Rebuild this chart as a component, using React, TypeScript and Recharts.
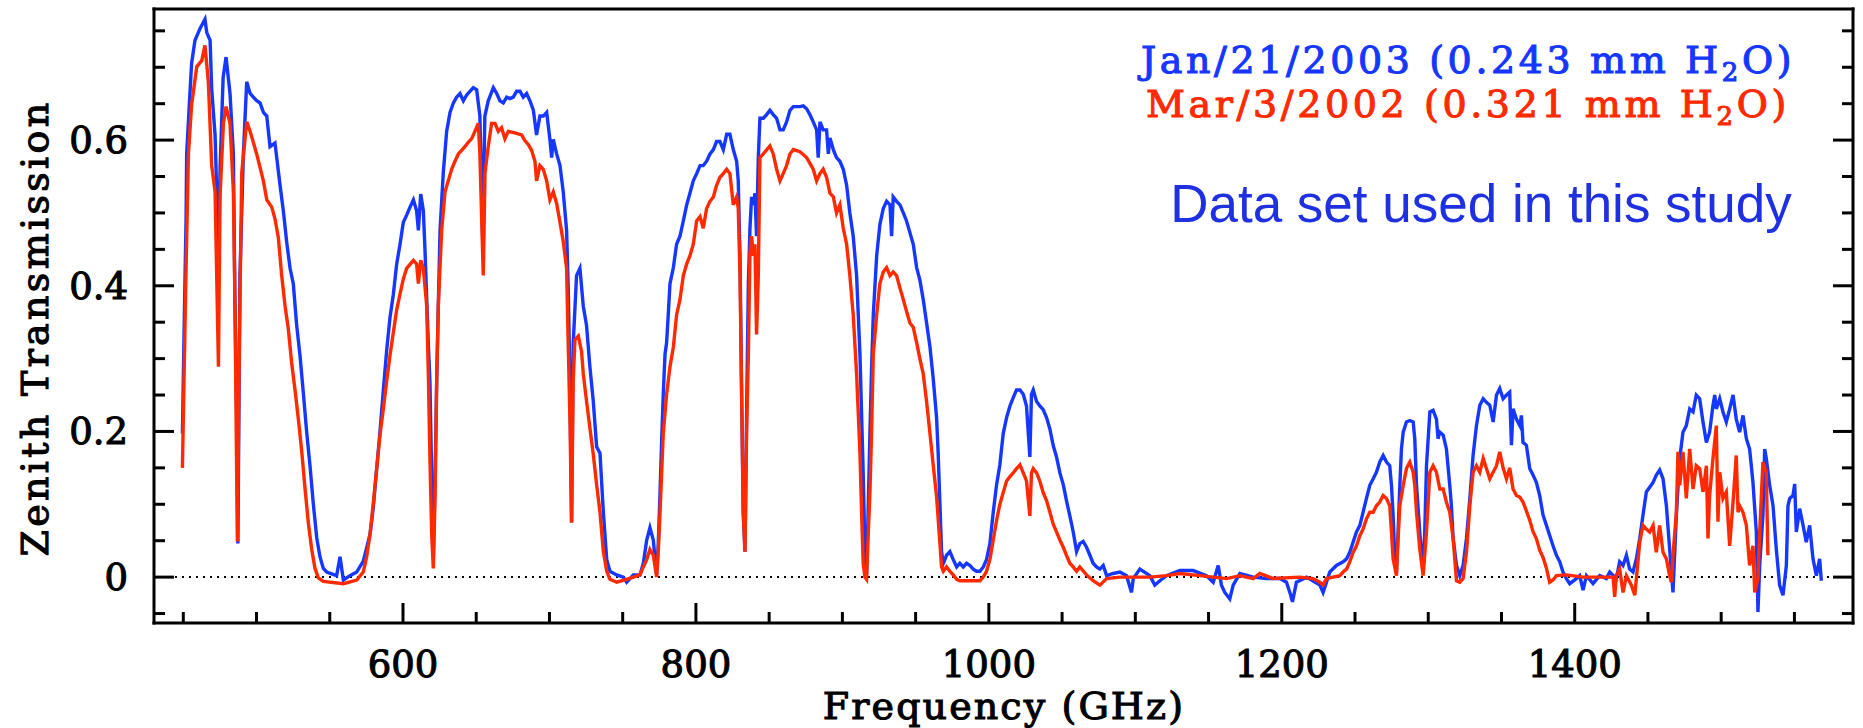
import React from "react";
import { LineChart, Line, XAxis, YAxis, ReferenceLine } from "recharts";

// zenith transmission spectra, [frequency GHz, transmission]
const janSpectrum: [number, number][] = [
  [449.4, 0.197], [450.7, 0.356], [451.9, 0.492], [452.3, 0.581], [454.6, 0.667], [455.7, 0.706],
  [458.0, 0.737], [461.4, 0.753], [464.8, 0.766], [466.0, 0.748], [468.3, 0.737], [469.4, 0.67],
  [471.7, 0.607], [472.8, 0.529], [474.0, 0.43], [475.1, 0.56], [477.2, 0.686], [479.2, 0.714],
  [481.9, 0.664], [484.2, 0.581], [485.3, 0.372], [486.5, 0.216], [487.3, 0.046], [488.7, 0.414],
  [491.0, 0.58], [493.3, 0.68], [495.6, 0.664], [497.8, 0.659], [500.1, 0.654], [502.4, 0.651],
  [504.7, 0.638], [507.0, 0.633], [509.2, 0.591], [512.6, 0.596], [513.8, 0.576], [516.0, 0.539],
  [518.3, 0.503], [520.6, 0.46], [522.9, 0.424], [525.1, 0.403], [527.4, 0.346], [529.7, 0.304],
  [532.0, 0.252], [534.2, 0.2], [536.5, 0.153], [538.8, 0.1], [541.1, 0.054], [543.3, 0.028],
  [545.6, 0.012], [547.9, 0.007], [554.7, 0.002], [557.0, 0.028], [559.3, -0.004], [563.8, 0.002],
  [568.4, 0.007], [572.9, 0.022], [577.5, 0.059], [579.7, 0.095], [582.0, 0.148], [584.3, 0.2],
  [586.6, 0.257], [588.8, 0.31], [591.1, 0.356], [593.4, 0.388], [595.7, 0.43], [597.9, 0.456],
  [600.2, 0.487], [602.5, 0.497], [604.8, 0.508], [607.1, 0.518], [609.3, 0.503], [610.5, 0.476],
  [612.1, 0.526], [613.9, 0.503], [615.0, 0.45], [617.3, 0.32], [618.4, 0.268], [619.6, 0.137],
  [620.7, 0.028], [621.9, 0.137], [623.0, 0.268], [624.1, 0.372], [625.3, 0.476], [627.5, 0.555],
  [629.8, 0.612], [632.1, 0.638], [634.4, 0.651], [636.6, 0.659], [638.9, 0.664], [641.2, 0.654],
  [643.5, 0.662], [645.7, 0.667], [648.0, 0.672], [650.3, 0.669], [652.5, 0.633], [654.4, 0.466],
  [655.9, 0.633], [658.2, 0.654], [661.7, 0.672], [664.0, 0.664], [666.2, 0.654], [668.5, 0.651],
  [670.8, 0.659], [673.0, 0.657], [675.3, 0.659], [677.6, 0.667], [679.9, 0.667], [682.1, 0.659],
  [684.4, 0.664], [686.7, 0.654], [689.0, 0.641], [691.2, 0.607], [693.5, 0.633], [695.8, 0.633],
  [698.1, 0.638], [700.3, 0.601], [701.5, 0.576], [702.6, 0.601], [704.9, 0.581], [707.2, 0.565],
  [709.4, 0.529], [711.7, 0.476], [712.8, 0.398], [714.0, 0.268], [715.1, 0.075], [716.2, 0.32],
  [718.5, 0.414], [720.8, 0.424], [723.1, 0.372], [725.3, 0.346], [727.6, 0.289], [729.9, 0.242],
  [732.2, 0.179], [734.5, 0.17], [736.8, 0.089], [739.1, 0.024], [741.3, 0.008], [745.9, 0.003],
  [750.4, 0.0], [752.7, -0.007], [757.3, 0.003], [761.8, 0.003], [764.1, 0.019], [766.4, 0.051],
  [768.6, 0.068], [770.9, 0.051], [773.2, 0.003], [774.3, 0.046], [775.5, 0.116], [776.6, 0.187],
  [777.7, 0.251], [778.9, 0.306], [780.0, 0.322], [781.1, 0.36], [782.3, 0.403], [784.6, 0.425],
  [786.8, 0.457], [789.1, 0.468], [791.4, 0.489], [793.7, 0.511], [795.9, 0.527], [798.2, 0.544],
  [800.5, 0.554], [802.8, 0.565], [805.0, 0.565], [807.3, 0.571], [809.6, 0.581], [811.9, 0.587],
  [814.1, 0.598], [816.4, 0.598], [818.7, 0.587], [821.0, 0.608], [823.2, 0.608], [825.5, 0.587],
  [827.8, 0.571], [828.9, 0.544], [830.1, 0.441], [831.2, 0.251], [832.3, 0.089], [833.5, 0.035],
  [834.6, 0.224], [835.8, 0.403], [836.9, 0.479], [838.0, 0.522], [839.2, 0.511], [840.3, 0.527],
  [841.4, 0.468], [842.6, 0.576], [843.7, 0.63], [846.0, 0.63], [848.3, 0.635], [850.5, 0.641],
  [852.8, 0.635], [855.1, 0.63], [857.4, 0.614], [859.6, 0.614], [861.9, 0.625], [864.2, 0.641],
  [866.5, 0.646], [871.0, 0.646], [873.3, 0.647], [875.6, 0.643], [877.8, 0.635], [880.1, 0.625],
  [882.4, 0.614], [883.5, 0.576], [884.7, 0.625], [886.9, 0.614], [889.2, 0.614], [890.4, 0.581],
  [891.5, 0.603], [893.8, 0.587], [896.0, 0.576], [898.3, 0.571], [900.6, 0.56], [902.9, 0.538],
  [905.1, 0.5], [907.4, 0.468], [909.7, 0.414], [912.0, 0.306], [913.1, 0.224], [914.2, 0.143],
  [915.4, 0.035], [916.5, 0.003], [917.7, 0.1], [918.8, 0.197], [919.9, 0.284], [921.1, 0.36],
  [923.4, 0.441], [925.6, 0.484], [927.9, 0.506], [930.2, 0.516], [932.5, 0.511], [933.6, 0.468],
  [934.7, 0.522], [937.0, 0.516], [939.3, 0.511], [941.6, 0.5], [943.8, 0.489], [946.1, 0.473],
  [948.4, 0.457], [950.7, 0.425], [952.9, 0.408], [955.2, 0.381], [957.5, 0.349], [959.8, 0.316],
  [962.0, 0.273], [964.3, 0.219], [965.4, 0.17], [966.6, 0.1], [967.7, 0.035], [968.9, 0.019],
  [971.1, 0.03], [973.4, 0.035], [975.7, 0.024], [978.0, 0.014], [980.2, 0.019], [982.5, 0.014],
  [984.8, 0.019], [987.1, 0.016], [989.3, 0.011], [991.6, 0.008], [993.9, 0.008], [996.2, 0.014],
  [998.4, 0.024], [1000.7, 0.046], [1003.0, 0.089], [1005.3, 0.127], [1007.5, 0.154], [1009.8, 0.197],
  [1012.1, 0.219], [1014.4, 0.235], [1016.6, 0.246], [1018.9, 0.257], [1021.2, 0.257], [1023.5, 0.251],
  [1025.7, 0.235], [1028.0, 0.165], [1029.1, 0.251], [1030.3, 0.257], [1032.6, 0.241], [1034.8, 0.235],
  [1037.1, 0.23], [1039.4, 0.219], [1041.7, 0.203], [1043.9, 0.181], [1046.2, 0.165], [1048.5, 0.143],
  [1050.8, 0.127], [1053.0, 0.105], [1055.3, 0.084], [1057.6, 0.062], [1059.9, 0.035], [1062.1, 0.046],
  [1064.4, 0.049], [1066.7, 0.041], [1069.0, 0.03], [1071.2, 0.019], [1073.5, 0.014], [1075.8, 0.011],
  [1078.1, 0.016], [1080.4, 0.002], [1084.9, 0.005], [1089.5, 0.007], [1094.0, 0.002], [1097.4, -0.021],
  [1098.6, -0.002], [1103.1, 0.011], [1109.9, 0.002], [1113.3, -0.011], [1116.8, -0.005], [1121.3, 0.002],
  [1130.4, 0.009], [1139.5, 0.009], [1148.6, 0.002], [1153.2, -0.007], [1156.6, 0.016], [1158.8, -0.011],
  [1161.1, -0.021], [1164.5, -0.03], [1166.8, -0.011], [1171.4, 0.005], [1180.5, 0.0], [1189.6, -0.002],
  [1198.7, -0.002], [1203.2, -0.007], [1205.5, -0.021], [1207.3, -0.034], [1210.0, -0.007], [1216.9, 0.0],
  [1226.0, -0.011], [1228.2, -0.021], [1232.8, 0.007], [1237.3, 0.016], [1241.9, 0.021], [1244.2, 0.025],
  [1246.4, 0.034], [1248.7, 0.048], [1251.0, 0.062], [1253.3, 0.071], [1255.5, 0.089], [1257.8, 0.108],
  [1260.1, 0.126], [1262.4, 0.135], [1264.6, 0.144], [1266.9, 0.158], [1269.2, 0.167], [1271.5, 0.158],
  [1273.7, 0.153], [1274.9, 0.126], [1276.0, 0.085], [1277.2, 0.025], [1278.3, 0.007], [1279.4, 0.062],
  [1280.6, 0.126], [1281.7, 0.176], [1282.9, 0.199], [1285.1, 0.213], [1287.4, 0.215], [1289.7, 0.213],
  [1290.8, 0.19], [1292.0, 0.126], [1294.2, 0.062], [1296.5, 0.007], [1297.6, 0.062], [1298.8, 0.153],
  [1301.1, 0.227], [1303.3, 0.229], [1305.6, 0.217], [1306.7, 0.19], [1307.9, 0.199], [1310.2, 0.195],
  [1312.4, 0.176], [1314.7, 0.126], [1315.8, 0.098], [1317.0, 0.053], [1319.3, 0.016], [1321.5, 0.002],
  [1323.8, 0.016], [1326.1, 0.053], [1328.4, 0.108], [1330.6, 0.167], [1332.9, 0.208], [1335.2, 0.236],
  [1337.5, 0.245], [1339.7, 0.24], [1342.0, 0.236], [1344.3, 0.213], [1346.6, 0.25], [1348.8, 0.259],
  [1351.1, 0.245], [1353.4, 0.25], [1355.6, 0.254], [1356.8, 0.181], [1357.9, 0.231], [1360.2, 0.217],
  [1362.5, 0.208], [1363.6, 0.222], [1364.7, 0.185], [1367.0, 0.181], [1369.3, 0.149], [1371.6, 0.14],
  [1373.8, 0.13], [1376.1, 0.112], [1378.4, 0.085], [1380.7, 0.071], [1382.9, 0.057], [1385.2, 0.043],
  [1387.5, 0.03], [1389.8, 0.021], [1392.0, 0.007], [1394.3, -0.002], [1396.6, -0.009], [1401.1, -0.002],
  [1403.4, 0.002], [1405.7, -0.018], [1408.0, 0.002], [1412.5, -0.009], [1417.1, 0.002], [1421.6, -0.002],
  [1423.9, 0.007], [1428.4, -0.002], [1430.7, 0.021], [1433.0, 0.016], [1435.3, 0.03], [1437.5, 0.011],
  [1439.8, 0.007], [1442.1, 0.025], [1444.4, 0.053], [1446.6, 0.085], [1448.9, 0.117], [1453.5, 0.13],
  [1455.7, 0.14], [1458.0, 0.147], [1460.3, 0.135], [1462.6, 0.098], [1464.8, 0.039], [1467.1, -0.021],
  [1469.4, 0.085], [1471.7, 0.163], [1473.9, 0.199], [1476.2, 0.208], [1478.5, 0.231], [1480.8, 0.227],
  [1483.0, 0.25], [1485.3, 0.245], [1487.6, 0.213], [1489.9, 0.185], [1492.1, 0.199], [1494.4, 0.236],
  [1495.6, 0.25], [1496.7, 0.231], [1499.0, 0.245], [1501.2, 0.227], [1503.5, 0.213], [1505.8, 0.231],
  [1508.1, 0.25], [1510.3, 0.217], [1512.6, 0.199], [1514.9, 0.222], [1517.2, 0.19], [1519.4, 0.176],
  [1521.7, 0.13], [1524.0, 0.062], [1525.1, -0.048], [1526.3, 0.016], [1528.5, 0.085], [1529.7, 0.176],
  [1530.8, 0.163], [1533.1, 0.126], [1535.4, 0.098], [1537.6, 0.039], [1539.9, -0.011], [1542.2, -0.025],
  [1544.5, 0.016], [1545.6, 0.098], [1546.8, 0.108], [1549.0, 0.112], [1550.2, 0.128], [1551.3, 0.062],
  [1553.6, 0.094], [1555.9, 0.071], [1558.1, 0.048], [1560.4, 0.071], [1562.7, 0.025], [1565.0, 0.002],
  [1567.2, 0.025], [1568.4, -0.005],
];

const marSpectrum: [number, number][] = [
  [449.4, 0.15], [450.7, 0.294], [451.9, 0.424], [453.5, 0.581], [455.7, 0.649], [459.2, 0.701],
  [462.6, 0.709], [464.8, 0.73], [467.1, 0.68], [469.4, 0.565], [471.7, 0.529], [474.0, 0.289],
  [475.1, 0.524], [477.4, 0.623], [479.2, 0.646], [481.9, 0.623], [484.2, 0.529], [485.3, 0.372],
  [486.9, 0.049], [488.3, 0.32], [489.9, 0.555], [493.3, 0.625], [495.6, 0.612], [497.8, 0.597],
  [500.1, 0.581], [504.7, 0.544], [507.0, 0.518], [510.4, 0.508], [512.6, 0.492], [514.9, 0.466],
  [517.2, 0.414], [519.5, 0.372], [521.7, 0.341], [524.0, 0.294], [526.3, 0.257], [528.6, 0.216],
  [530.8, 0.174], [533.1, 0.122], [535.4, 0.074], [537.7, 0.038], [539.9, 0.012], [542.2, -0.001],
  [545.6, -0.006], [559.3, -0.009], [568.4, -0.004], [572.9, 0.007], [575.2, 0.028], [577.5, 0.059],
  [579.7, 0.101], [582.0, 0.148], [584.3, 0.195], [586.6, 0.231], [588.8, 0.268], [591.1, 0.304],
  [593.4, 0.336], [595.7, 0.367], [597.9, 0.388], [600.2, 0.409], [602.5, 0.424], [607.1, 0.435],
  [609.3, 0.43], [610.5, 0.403], [612.1, 0.435], [613.9, 0.424], [616.2, 0.372], [617.3, 0.278],
  [618.4, 0.163], [619.6, 0.059], [620.7, 0.012], [621.9, 0.111], [623.0, 0.268], [624.1, 0.372],
  [626.4, 0.476], [628.7, 0.529], [630.9, 0.544], [633.2, 0.56], [635.5, 0.571], [637.8, 0.581],
  [640.0, 0.586], [642.3, 0.591], [644.6, 0.597], [646.9, 0.602], [649.1, 0.612], [651.4, 0.623],
  [652.5, 0.581], [654.8, 0.414], [656.0, 0.555], [658.2, 0.591], [660.5, 0.623], [662.8, 0.623],
  [665.1, 0.612], [667.3, 0.617], [669.6, 0.602], [671.9, 0.612], [676.4, 0.61], [681.0, 0.607],
  [683.3, 0.599], [685.5, 0.594], [687.8, 0.586], [690.1, 0.571], [691.2, 0.544], [693.5, 0.565],
  [695.8, 0.56], [698.1, 0.544], [700.3, 0.518], [702.6, 0.529], [704.9, 0.513], [707.2, 0.487],
  [709.4, 0.461], [711.7, 0.424], [712.8, 0.32], [714.0, 0.216], [715.1, 0.075], [716.2, 0.268],
  [717.4, 0.326], [719.7, 0.331], [721.9, 0.31], [723.1, 0.279], [725.3, 0.242], [727.6, 0.205],
  [729.9, 0.169], [732.2, 0.127], [734.5, 0.089], [736.8, 0.035], [739.1, 0.008], [741.3, -0.003],
  [745.9, -0.007], [752.7, -0.003], [757.3, 0.0], [761.8, 0.003], [764.1, 0.014], [766.4, 0.024],
  [768.6, 0.038], [770.9, 0.03], [773.2, 0.0], [774.3, 0.035], [775.5, 0.089], [776.6, 0.143],
  [777.7, 0.197], [780.0, 0.251], [782.3, 0.289], [784.6, 0.316], [786.8, 0.36], [789.1, 0.381],
  [791.4, 0.414], [793.7, 0.43], [795.9, 0.441], [798.2, 0.457], [800.5, 0.489], [802.8, 0.495],
  [805.0, 0.479], [807.3, 0.506], [809.6, 0.516], [811.9, 0.522], [814.1, 0.538], [816.4, 0.549],
  [818.7, 0.554], [821.0, 0.56], [823.2, 0.554], [825.5, 0.511], [827.8, 0.522], [828.9, 0.506],
  [830.1, 0.414], [831.2, 0.251], [832.3, 0.089], [833.5, 0.035], [834.6, 0.197], [835.8, 0.306],
  [836.9, 0.446], [838.0, 0.468], [839.2, 0.441], [840.3, 0.457], [841.4, 0.333], [842.6, 0.414],
  [843.7, 0.576], [846.0, 0.581], [850.5, 0.592], [852.8, 0.581], [855.1, 0.56], [857.4, 0.544],
  [859.6, 0.554], [861.9, 0.565], [864.2, 0.581], [866.5, 0.587], [871.0, 0.584], [875.6, 0.576],
  [880.1, 0.56], [882.4, 0.544], [884.7, 0.554], [886.9, 0.56], [889.2, 0.549], [891.5, 0.527],
  [893.8, 0.522], [896.0, 0.5], [898.3, 0.511], [900.6, 0.479], [902.9, 0.457], [905.1, 0.414],
  [907.4, 0.36], [909.7, 0.279], [912.0, 0.17], [913.1, 0.089], [914.2, 0.019], [915.4, 0.0],
  [916.5, -0.003], [917.7, 0.062], [918.8, 0.116], [919.9, 0.197], [921.1, 0.306], [923.4, 0.36],
  [925.6, 0.403], [927.9, 0.419], [930.2, 0.425], [932.5, 0.414], [934.7, 0.419], [937.0, 0.414],
  [939.3, 0.397], [941.6, 0.381], [943.8, 0.365], [946.1, 0.349], [948.4, 0.343], [950.7, 0.322],
  [952.9, 0.3], [955.2, 0.279], [957.5, 0.241], [959.8, 0.197], [962.0, 0.154], [964.3, 0.111],
  [966.6, 0.046], [967.7, 0.014], [968.9, 0.008], [971.1, 0.014], [973.4, 0.008], [975.7, 0.003],
  [978.0, -0.003], [980.2, -0.005], [993.9, -0.005], [996.2, 0.0], [998.4, 0.008], [1000.7, 0.024],
  [1003.0, 0.051], [1005.3, 0.078], [1007.5, 0.1], [1009.8, 0.116], [1012.1, 0.132], [1014.4, 0.138],
  [1016.6, 0.143], [1018.9, 0.149], [1021.2, 0.154], [1023.5, 0.143], [1025.7, 0.132], [1028.0, 0.084],
  [1029.1, 0.143], [1030.3, 0.149], [1032.6, 0.143], [1034.8, 0.132], [1037.1, 0.116], [1039.4, 0.105],
  [1041.7, 0.089], [1043.9, 0.073], [1046.2, 0.062], [1048.5, 0.051], [1050.8, 0.041], [1053.0, 0.03],
  [1055.3, 0.019], [1057.6, 0.014], [1059.9, 0.008], [1062.1, 0.014], [1066.7, 0.003], [1071.2, -0.005],
  [1075.8, -0.011], [1080.4, -0.002], [1089.5, 0.0], [1109.9, 0.0], [1121.3, 0.002], [1130.4, 0.005],
  [1144.1, 0.002], [1162.3, -0.002], [1171.4, 0.002], [1180.5, -0.002], [1185.0, 0.005], [1194.1, -0.002],
  [1212.3, 0.0], [1221.4, -0.002], [1226.0, -0.007], [1228.2, -0.011], [1230.5, -0.002], [1239.6, 0.002],
  [1241.9, 0.007], [1244.2, 0.011], [1246.4, 0.021], [1248.7, 0.034], [1251.0, 0.043], [1253.3, 0.057],
  [1255.5, 0.066], [1257.8, 0.08], [1260.1, 0.089], [1262.4, 0.089], [1264.6, 0.098], [1266.9, 0.103],
  [1269.2, 0.112], [1271.5, 0.108], [1273.7, 0.098], [1274.9, 0.062], [1276.0, 0.025], [1278.3, 0.002],
  [1279.4, 0.053], [1280.6, 0.098], [1282.9, 0.126], [1285.1, 0.149], [1287.4, 0.158], [1289.7, 0.144],
  [1290.8, 0.126], [1292.0, 0.089], [1294.2, 0.039], [1296.5, 0.002], [1298.8, 0.062], [1301.1, 0.144],
  [1303.3, 0.153], [1305.6, 0.144], [1307.9, 0.121], [1310.2, 0.121], [1312.4, 0.103], [1314.7, 0.089],
  [1317.0, 0.053], [1319.3, -0.005], [1321.5, -0.007], [1323.8, -0.002], [1326.1, 0.034], [1328.4, 0.098],
  [1330.6, 0.144], [1332.9, 0.153], [1335.2, 0.144], [1337.5, 0.163], [1339.7, 0.149], [1342.0, 0.135],
  [1344.3, 0.144], [1346.6, 0.153], [1348.8, 0.172], [1351.1, 0.15], [1353.4, 0.135], [1355.6, 0.15],
  [1357.9, 0.121], [1360.2, 0.112], [1362.5, 0.11], [1364.7, 0.103], [1367.0, 0.091], [1369.3, 0.078],
  [1371.6, 0.062], [1373.8, 0.053], [1376.1, 0.037], [1378.4, 0.027], [1380.7, 0.012], [1382.9, -0.007],
  [1385.2, -0.004], [1387.5, 0.002], [1394.3, 0.003], [1405.7, 0.0], [1417.1, 0.0], [1426.2, 0.0],
  [1427.3, -0.027], [1428.4, 0.002], [1430.7, 0.011], [1433.0, -0.021], [1435.3, 0.002], [1438.7, -0.011],
  [1441.0, -0.025], [1442.1, -0.002], [1444.4, 0.048], [1446.6, 0.071], [1448.9, 0.066], [1451.2, 0.062],
  [1453.5, 0.071], [1455.7, 0.034], [1458.0, 0.071], [1460.3, 0.034], [1462.6, 0.025], [1464.8, 0.002],
  [1466.0, -0.007], [1467.1, 0.03], [1469.4, 0.089], [1470.5, 0.172], [1471.7, 0.126], [1473.9, 0.172],
  [1476.2, 0.108], [1478.5, 0.176], [1480.8, 0.121], [1483.0, 0.153], [1485.3, 0.149], [1487.6, 0.117],
  [1489.9, 0.153], [1491.0, 0.053], [1492.1, 0.112], [1494.4, 0.163], [1496.7, 0.208], [1497.8, 0.076],
  [1499.0, 0.144], [1501.2, 0.108], [1503.5, 0.117], [1505.8, 0.043], [1508.1, 0.103], [1510.3, 0.167],
  [1511.5, 0.089], [1512.6, 0.098], [1514.9, 0.089], [1517.2, 0.071], [1519.4, 0.016], [1521.7, 0.043],
  [1522.9, -0.021], [1524.0, -0.011], [1525.1, -0.002], [1526.3, 0.062], [1528.5, 0.158], [1530.8, 0.144],
  [1531.9, 0.03],
];

const xTicks = [450, 500, 550, 600, 650, 700, 750, 800, 850, 900, 950, 1000, 1050, 1100, 1150, 1200, 1250, 1300, 1350, 1400, 1450, 1500, 1550];
const xLabelTicks = [600, 800, 1000, 1200, 1400];
const yTicks = [-0.05, 0, 0.05, 0.1, 0.15, 0.2, 0.25, 0.3, 0.35, 0.4, 0.45, 0.5, 0.55, 0.6, 0.65, 0.7, 0.75];
const yLabelTicks = [0, 0.2, 0.4, 0.6];

const janLabel = "Jan/21/2003 (0.243 mm H";
const marLabel = "Mar/3/2002 (0.321 mm H";
const noteLabel = "Data set used in this study";

const BLUE = "#1537ff";
const RED = "#ff2a00";
const SERIF = "'DejaVu Serif', serif";

const janData = janSpectrum.map(([f, t]) => ({ f, t }));
const marData = marSpectrum.map(([f, t]) => ({ f, t }));

const frameLine = { stroke: "#000", strokeWidth: 3, strokeLinecap: "square" as const };
const isYMajor = (v: number) => yLabelTicks.some((m) => Math.abs(m - v) < 1e-6);

// labels in a medium-weight serif
const serifText = { fontFamily: SERIF, fontWeight: "normal" as const, strokeWidth: 1.1 };

function BottomTick({ x, y, payload }: any) {
  const major = xLabelTicks.includes(payload.value);
  return (
    <g>
      <line x1={x} y1={y} x2={x} y2={y - (major ? 20 : 11)} stroke="#000" strokeWidth={3} />
      {major && (
        <text x={x} y={y + 54} textAnchor="middle" fontSize={37} fill="#000" stroke="#000" {...serifText}>
          {payload.value}
        </text>
      )}
    </g>
  );
}

function TopTick({ x, y, payload }: any) {
  const major = xLabelTicks.includes(payload.value);
  return <line x1={x} y1={y} x2={x} y2={y + (major ? 20 : 11)} stroke="#000" strokeWidth={3} />;
}

function LeftTick({ x, y, payload }: any) {
  const major = isYMajor(payload.value);
  return (
    <g>
      <line x1={x} y1={y} x2={x + (major ? 20 : 11)} y2={y} stroke="#000" strokeWidth={3} />
      {major && (
        <text x={x - 26} y={y + 13} textAnchor="end" fontSize={37} fill="#000" stroke="#000" {...serifText}>
          {payload.value === 0 ? "0" : payload.value.toFixed(1)}
        </text>
      )}
    </g>
  );
}

function RightTick({ x, y, payload }: any) {
  const major = isYMajor(payload.value);
  return <line x1={x} y1={y} x2={x - (major ? 20 : 11)} y2={y} stroke="#000" strokeWidth={3} />;
}

export default function App() {
  return (
    <div style={{ position: "absolute", left: 0, top: 0, width: 1863, height: 728, background: "#fff" }}>
      <LineChart width={1863} height={728} margin={{ top: 8, right: 9, bottom: 104, left: 153 }}>
        <XAxis
          dataKey="f"
          type="number"
          domain={[430, 1590]}
          ticks={xTicks}
          interval={0}
          height={1}
          tickSize={0}
          tickMargin={0}
          tickLine={false}
          axisLine={frameLine}
          tick={BottomTick}
          allowDataOverflow
        />
        <XAxis
          xAxisId="top"
          orientation="top"
          type="number"
          domain={[430, 1590]}
          ticks={xTicks}
          interval={0}
          height={1}
          tickSize={0}
          tickMargin={0}
          tickLine={false}
          axisLine={frameLine}
          tick={TopTick}
          allowDataOverflow
        />
        <YAxis
          type="number"
          domain={[-0.063, 0.78]}
          ticks={yTicks}
          interval={0}
          width={1}
          tickSize={0}
          tickMargin={0}
          tickLine={false}
          axisLine={frameLine}
          tick={LeftTick}
          allowDataOverflow
        />
        <YAxis
          yAxisId="right"
          orientation="right"
          type="number"
          domain={[-0.063, 0.78]}
          ticks={yTicks}
          interval={0}
          width={1}
          tickSize={0}
          tickMargin={0}
          tickLine={false}
          axisLine={frameLine}
          tick={RightTick}
          allowDataOverflow
        />
        <ReferenceLine y={0} stroke="#000" strokeWidth={2} strokeDasharray="2 5" />
        <Line data={janData} dataKey="t" type="linear" stroke={BLUE} strokeWidth={3.4} dot={false} activeDot={false} isAnimationActive={false} />
        <Line data={marData} dataKey="t" type="linear" stroke={RED} strokeWidth={3.4} dot={false} activeDot={false} isAnimationActive={false} />
      </LineChart>
      <svg width={1863} height={728} style={{ position: "absolute", left: 0, top: 0, pointerEvents: "none" }}>
        <text transform="translate(48,328) rotate(-90)" textAnchor="middle" fontSize={38} letterSpacing={3.3} fill="#000" stroke="#000" {...serifText}>
          Zenith Transmission
        </text>
        <text x={1004} y={719} textAnchor="middle" fontSize={38} letterSpacing={2.1} fill="#000" stroke="#000" {...serifText}>
          Frequency (GHz)
        </text>
        <text x={1468} y={73} textAnchor="middle" fontSize={38} letterSpacing={3.6} fill={BLUE} stroke={BLUE} {...serifText}>
          {janLabel}
          <tspan fontSize={26} dy={8}>2</tspan>
          <tspan dy={-8}>O)</tspan>
        </text>
        <text x={1468} y={117} textAnchor="middle" fontSize={38} letterSpacing={3.6} fill={RED} stroke={RED} {...serifText}>
          {marLabel}
          <tspan fontSize={26} dy={8}>2</tspan>
          <tspan dy={-8}>O)</tspan>
        </text>
        <text x={1481} y={222} textAnchor="middle" fontFamily="'Liberation Sans', Arial, sans-serif" fontSize={53} fill="#1f30e0">
          {noteLabel}
        </text>
      </svg>
    </div>
  );
}
